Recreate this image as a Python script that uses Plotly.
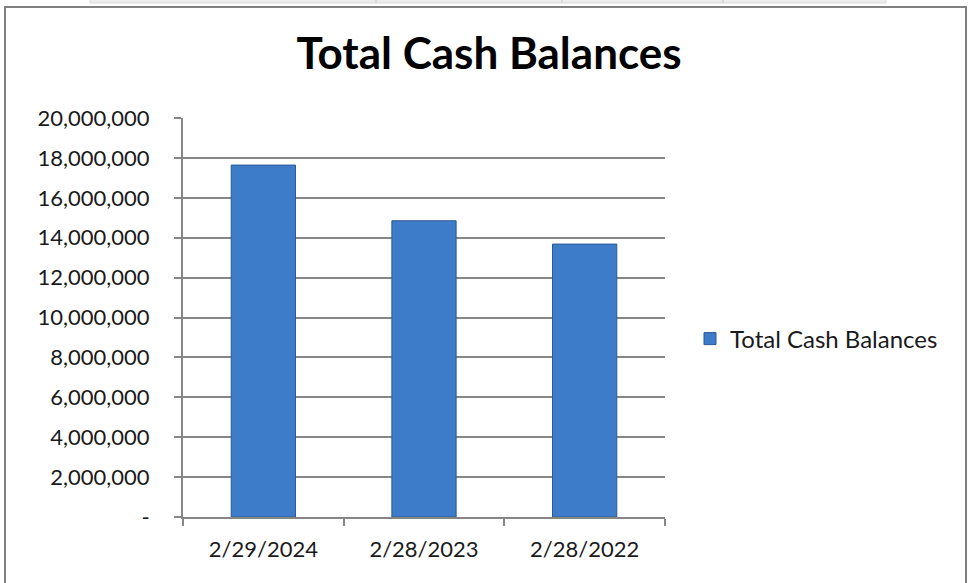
import plotly.graph_objects as go

categories = ["2/29/2024", "2/28/2023", "2/28/2022"]
cash_balances = [17640000, 14850000, 13680000]
series_name = "Total Cash Balances"
y_tick_values = [0, 2000000, 4000000, 6000000, 8000000, 10000000, 12000000, 14000000, 16000000, 18000000, 20000000]
y_tick_labels = ["-", "2,000,000", "4,000,000", "6,000,000", "8,000,000", "10,000,000",
                 "12,000,000", "14,000,000", "16,000,000", "18,000,000", "20,000,000"]

W, H = 969, 583
L, R, T, B = 183, 665, 118, 517
pw, ph = R - L, B - T

def px_x(x):
    return (x - L) / pw

def px_y(y):
    return (B - y) / ph

FONT = "Lato, Calibri, Carlito, sans-serif"
GRID = "#868686"
TXT = "#1a1a1a"

fig = go.Figure()
fig.add_trace(go.Bar(
    x=categories, y=cash_balances, name=series_name,
    marker=dict(color="#3d7cc9", line=dict(color="#2c5a96", width=1)),
    width=0.40, showlegend=True,
))

shapes = []
# chart outer border
shapes.append(dict(type="rect", xref="paper", yref="paper",
                   x0=px_x(5), x1=px_x(966), y0=px_y(600), y1=px_y(7),
                   line=dict(color="#808080", width=2), fillcolor="rgba(0,0,0,0)", layer="below"))
# faint spreadsheet strip at top
shapes.append(dict(type="rect", xref="paper", yref="paper",
                   x0=px_x(90), x1=px_x(886), y0=px_y(3), y1=px_y(-2),
                   line=dict(color="#d9d9d9", width=1), fillcolor="#ececec", layer="below"))
for xd in [376, 562, 723]:
    shapes.append(dict(type="line", xref="paper", yref="paper",
                       x0=px_x(xd), x1=px_x(xd), y0=px_y(3), y1=px_y(-2),
                       line=dict(color="#c8c8c8", width=1)))

fig.update_layout(
    width=W, height=H,
    margin=dict(l=L, r=W - R, t=T, b=H - B, pad=0, autoexpand=False),
    paper_bgcolor="white", plot_bgcolor="white",
    title=dict(text="<b>Total Cash Balances</b>", x=489 / W, xanchor="center",
               y=1 - 54 / H, yanchor="middle",
               font=dict(family=FONT, size=44, color="#000000")),
    font=dict(family=FONT, size=22, color=TXT),
    showlegend=True,
    legend=dict(x=px_x(690), y=px_y(339), xanchor="left", yanchor="middle",
                font=dict(family=FONT, size=24, color=TXT),
                bgcolor="rgba(0,0,0,0)", itemwidth=30),
    shapes=shapes,
)
fig.update_yaxes(range=[0, 20000000], tickvals=y_tick_values, ticktext=y_tick_labels,
                 showgrid=True, gridcolor=GRID, gridwidth=2,
                 showline=True, linecolor=GRID, linewidth=2,
                 ticks="outside", ticklen=7, tickwidth=2, tickcolor=GRID,
                 ticklabelstandoff=20, zeroline=False, automargin=False,
                 tickfont=dict(family=FONT, size=22, color=TXT))
fig.update_xaxes(showgrid=False, showline=True, linecolor=GRID, linewidth=2,
                 ticks="outside", ticklen=7, tickwidth=2, tickcolor=GRID,
                 tickson="boundaries", ticklabelstandoff=12, automargin=False,
                 tickfont=dict(family=FONT, size=22, color=TXT))

fig.write_html("out.html", config={"displayModeBar": False},
               post_script="document.body.style.margin='0';")
